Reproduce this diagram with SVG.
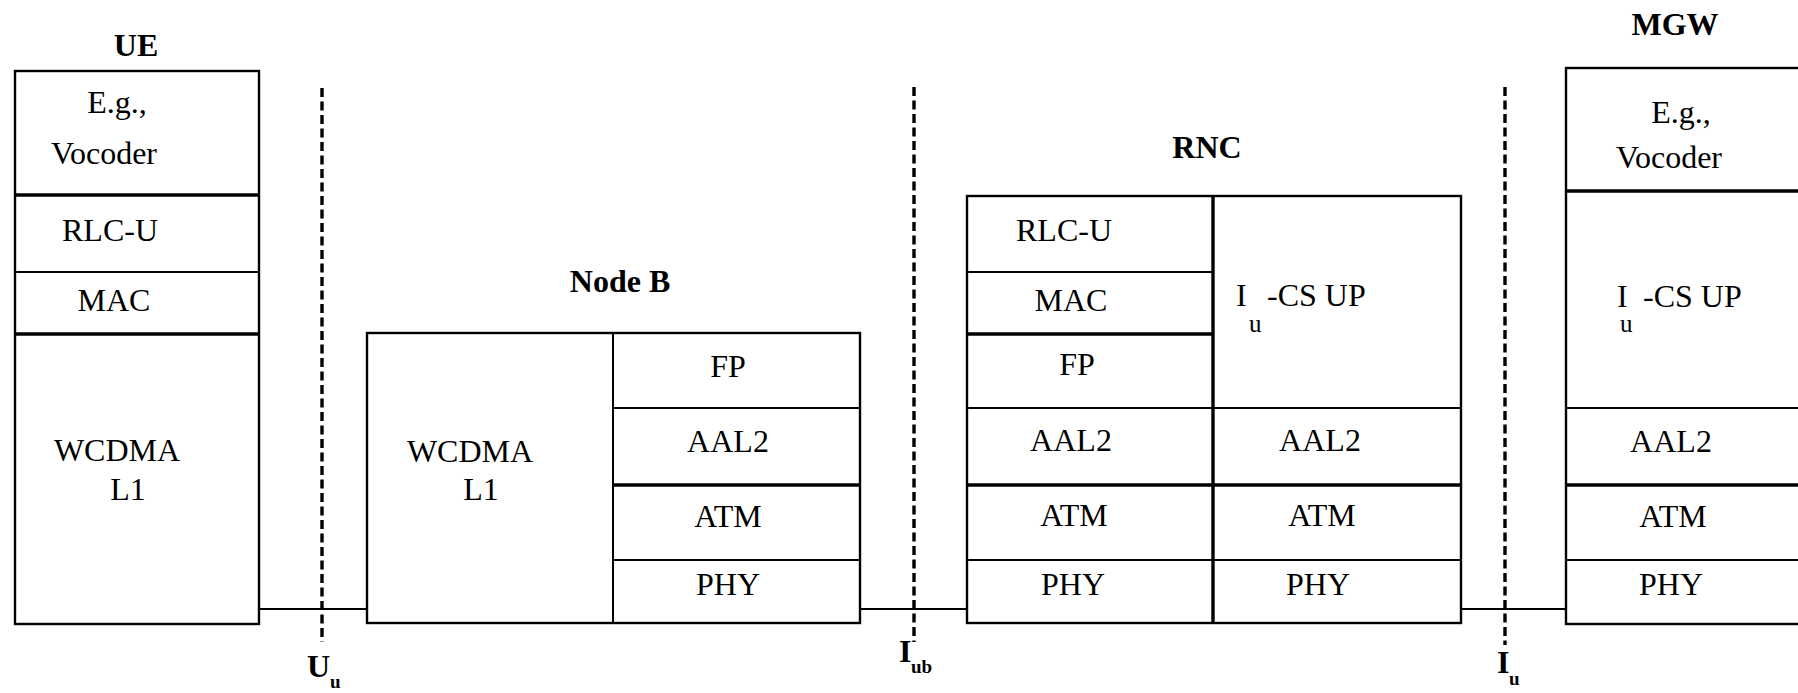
<svg xmlns="http://www.w3.org/2000/svg" width="1798" height="693" viewBox="0 0 1798 693">
<style>
.bg{fill:#fff}
.box{fill:none;stroke:#000;stroke-width:2.4}
.ln{stroke:#000;stroke-width:2}
.tk{stroke:#000;stroke-width:3.4}
.conn{stroke:#000;stroke-width:2;fill:none}
.dash{stroke:#000;stroke-width:3.4;stroke-dasharray:9 4.5;fill:none}
.t{font-family:"Liberation Serif","Times New Roman",serif;font-size:32px;fill:#000;text-anchor:middle}
.s{text-anchor:start}
.sub{font-family:"Liberation Serif","Times New Roman",serif;font-size:25px;fill:#000}
.h{font-family:"Liberation Serif","Times New Roman",serif;font-size:32px;font-weight:bold;fill:#000;text-anchor:middle}
.lb{font-family:"Liberation Serif","Times New Roman",serif;font-size:32px;font-weight:bold;fill:#000}
.lbs{font-family:"Liberation Serif","Times New Roman",serif;font-size:19px;font-weight:bold;fill:#000}
</style>
<rect class="bg" x="0" y="0" width="1798" height="693"/>

<g id="connectors">
<line class="conn" x1="259" y1="609" x2="367" y2="609"/>
<line class="conn" x1="860" y1="609" x2="967" y2="609"/>
<line class="conn" x1="1461" y1="609" x2="1566" y2="609"/>
<line class="dash" x1="322" y1="88" x2="322" y2="642"/>
<line class="dash" x1="914" y1="87" x2="914" y2="642"/>
<line class="dash" x1="1505" y1="87" x2="1505" y2="645"/>
</g>

<g id="iface-uu">
<text class="lb" x="307" y="677">U</text><text class="lbs" x="330" y="688">u</text>
</g>
<g id="iface-iub">
<text class="lb" x="899" y="662">I</text><text class="lbs" x="911" y="673">ub</text>
</g>
<g id="iface-iu">
<text class="lb" x="1497" y="673">I</text><text class="lbs" x="1509" y="685">u</text>
</g>

<g id="ue">
<text class="h" x="136" y="56">UE</text>
<rect class="box" x="15" y="71" width="244" height="553"/>
<line class="tk" x1="15" y1="195" x2="259" y2="195"/>
<line class="ln" x1="15" y1="272" x2="259" y2="272"/>
<line class="tk" x1="15" y1="334" x2="259" y2="334"/>
<text class="t" x="117" y="113">E.g.,</text>
<text class="t" x="104" y="164">Vocoder</text>
<text class="t" x="110" y="241">RLC-U</text>
<text class="t" x="114" y="311">MAC</text>
<text class="t" x="117" y="461">WCDMA</text>
<text class="t" x="128" y="500">L1</text>
</g>

<g id="nodeb">
<text class="h" x="620" y="292">Node B</text>
<rect class="box" x="367" y="333" width="493" height="290"/>
<line class="ln" x1="613" y1="333" x2="613" y2="623"/>
<line class="ln" x1="613" y1="408" x2="860" y2="408"/>
<line class="tk" x1="613" y1="485" x2="860" y2="485"/>
<line class="ln" x1="613" y1="560" x2="860" y2="560"/>
<text class="t" x="470" y="462">WCDMA</text>
<text class="t" x="481" y="500">L1</text>
<text class="t" x="728" y="377">FP</text>
<text class="t" x="728" y="452">AAL2</text>
<text class="t" x="728" y="527">ATM</text>
<text class="t" x="728" y="595">PHY</text>
</g>

<g id="rnc">
<text class="h" x="1207" y="158">RNC</text>
<rect class="box" x="967" y="196" width="494" height="427"/>
<line class="tk" x1="1213" y1="196" x2="1213" y2="623"/>
<line class="ln" x1="967" y1="272" x2="1213" y2="272"/>
<line class="tk" x1="967" y1="334" x2="1213" y2="334"/>
<line class="ln" x1="967" y1="408" x2="1461" y2="408"/>
<line class="tk" x1="967" y1="485" x2="1461" y2="485"/>
<line class="ln" x1="967" y1="560" x2="1461" y2="560"/>
<text class="t" x="1064" y="241">RLC-U</text>
<text class="t" x="1071" y="311">MAC</text>
<text class="t" x="1077" y="375">FP</text>
<text class="t" x="1071" y="451">AAL2</text>
<text class="t" x="1074" y="526">ATM</text>
<text class="t" x="1073" y="595">PHY</text>
<text class="t s" x="1236" y="306">I</text>
<text class="sub" x="1249" y="332">u</text>
<text class="t s" x="1267" y="306">-CS UP</text>
<text class="t" x="1320" y="451">AAL2</text>
<text class="t" x="1322" y="526">ATM</text>
<text class="t" x="1318" y="595">PHY</text>
</g>

<g id="mgw">
<text class="h" x="1675" y="35">MGW</text>
<rect class="box" x="1566" y="68" width="300" height="556"/>
<line class="tk" x1="1566" y1="191" x2="1798" y2="191"/>
<line class="ln" x1="1566" y1="408" x2="1798" y2="408"/>
<line class="tk" x1="1566" y1="485" x2="1798" y2="485"/>
<line class="ln" x1="1566" y1="560" x2="1798" y2="560"/>
<text class="t" x="1681" y="123">E.g.,</text>
<text class="t" x="1669" y="168">Vocoder</text>
<text class="t s" x="1617" y="307">I</text>
<text class="sub" x="1620" y="332">u</text>
<text class="t s" x="1643" y="307">-CS UP</text>
<text class="t" x="1671" y="452">AAL2</text>
<text class="t" x="1673" y="527">ATM</text>
<text class="t" x="1671" y="595">PHY</text>
</g>
</svg>
